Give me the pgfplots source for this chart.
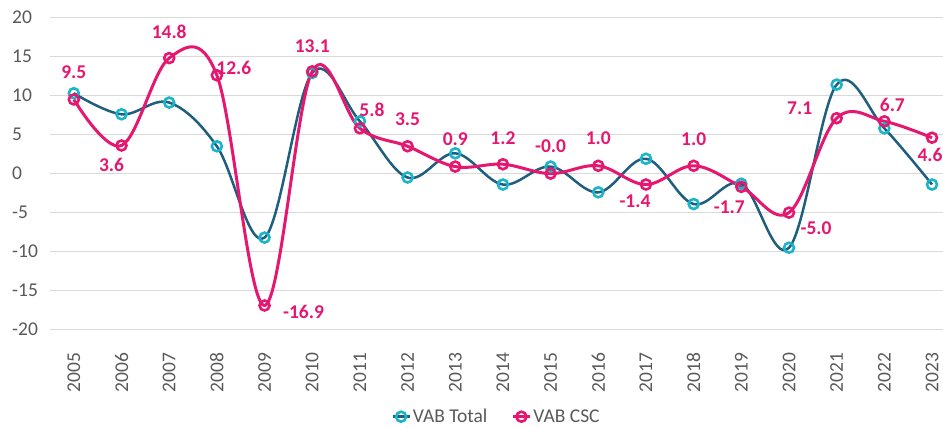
\documentclass[border=0pt]{standalone}
\usepackage{fontspec}
\setmainfont{Carlito}
\usepackage{pgfplots}
\usepackage{pgfplotstable}
\pgfplotsset{compat=1.18}
\definecolor{pinkc}{HTML}{E5176F}
\definecolor{tealline}{HTML}{1F5E7E}
\definecolor{tealmark}{HTML}{1BB4C8}
\definecolor{gridc}{HTML}{D9D9D9}
\definecolor{txt}{HTML}{595959}

\pgfplotstableread{
x y
0 10.3
1 7.6
2 9.1
3 3.5
4 -8.2
5 12.9
6 6.7
7 -0.5
8 2.6
9 -1.4
10 0.9
11 -2.4
12 1.9
13 -3.9
14 -1.3
15 -9.5
16 11.4
17 5.8
18 -1.4
}\total

\pgfplotstableread{
x y lbl dx dy
0 9.5 9.5 0 27
1 3.6 3.6 -10 -19.5
2 14.8 14.8 0 26
3 12.6 12.6 17 7
4 -16.9 -16.9 39 -6.5
5 13.1 13.1 0 25.5
6 5.8 5.8 12 18.5
7 3.5 3.5 0 27
8 0.9 0.9 0 27
9 1.2 1.2 0 26
10 -0.0 -0.0 0 27
11 1.0 1.0 0 28
12 -1.4 -1.4 -11 -17
13 1.0 1.0 0 27
14 -1.7 -1.7 -12 -20
15 -5.0 -5.0 27 -16
16 7.1 7.1 -37 10
17 6.7 6.7 8 16
18 4.6 4.6 -2 -17
}\csc

\begin{document}
\begin{tikzpicture}
\begin{axis}[
  name=ax,
  scale only axis,
  width=893pt, height=312.2pt,
  xmin=-0.5, xmax=18.23,
  ymin=-20, ymax=20,
  clip=false,
  axis line style={draw=none},
  tick style={draw=none},
  major tick length=0pt,
  ymajorgrids,
  grid style={gridc, line width=1.6pt},
  ytick={-20,-15,-10,-5,0,5,10,15,20},
  yticklabels={-20,-15,-10,-5,0,5,10,15,20},
  xtick={0,...,18},
  xticklabels={2005,2006,2007,2008,2009,2010,2011,2012,2013,2014,2015,2016,2017,2018,2019,2020,2021,2022,2023},
  every tick label/.append style={font=\fontsize{19.5}{22}\selectfont, text=txt, inner sep=0pt},
  yticklabel style={anchor=west, xshift=-38pt},
  xticklabel style={yshift=-23pt, rotate=90, anchor=east},
  legend columns=2,
  legend style={draw=none, fill=none, at={(rel axis cs:0.5,0)}, yshift=-87pt, anchor=center,
    font=\fontsize{19.5}{22}\selectfont, text=txt,
    /tikz/every even column/.append style={column sep=22pt}},
  legend image code/.code={%
    \draw[mark repeat=2,mark phase=2,#1] plot coordinates {(0pt,0pt) (8.5pt,0pt) (17pt,0pt)};},
]
\addplot[tealline, line width=2.5pt, smooth, tension=0.6,
  mark=o, mark size=5pt,
  mark options={draw=tealmark, fill=white, line width=2.6pt, solid}]
  table[x=x, y=y] {\total};
\addlegendentry{VAB Total}
\addplot[pinkc, line width=3pt, smooth, tension=0.6,
  mark=o, mark size=5pt,
  mark options={draw=pinkc, fill=white, line width=2.6pt, solid}]
  table[x=x, y=y] {\csc};
\addlegendentry{VAB CSC}
\addplot[draw=none, mark=none, forget plot,
  point meta=explicit symbolic,
  visualization depends on={\thisrow{dx}\as\dx},
  visualization depends on={\thisrow{dy}\as\dy},
  nodes near coords,
  nodes near coords style={anchor=center, xshift=\dx pt, yshift=\dy pt,
    font=\bfseries\fontsize{19.5}{22}\selectfont, text=pinkc, inner sep=0pt}]
  table[x=x, y=y, meta=lbl] {\csc};
\end{axis}
\pgfresetboundingbox
\path[use as bounding box] ([xshift=-50pt,yshift=17.5pt]ax.north west) rectangle ([xshift=-50pt+943pt,yshift=-98.3pt]ax.south west);
\end{tikzpicture}
\end{document}
